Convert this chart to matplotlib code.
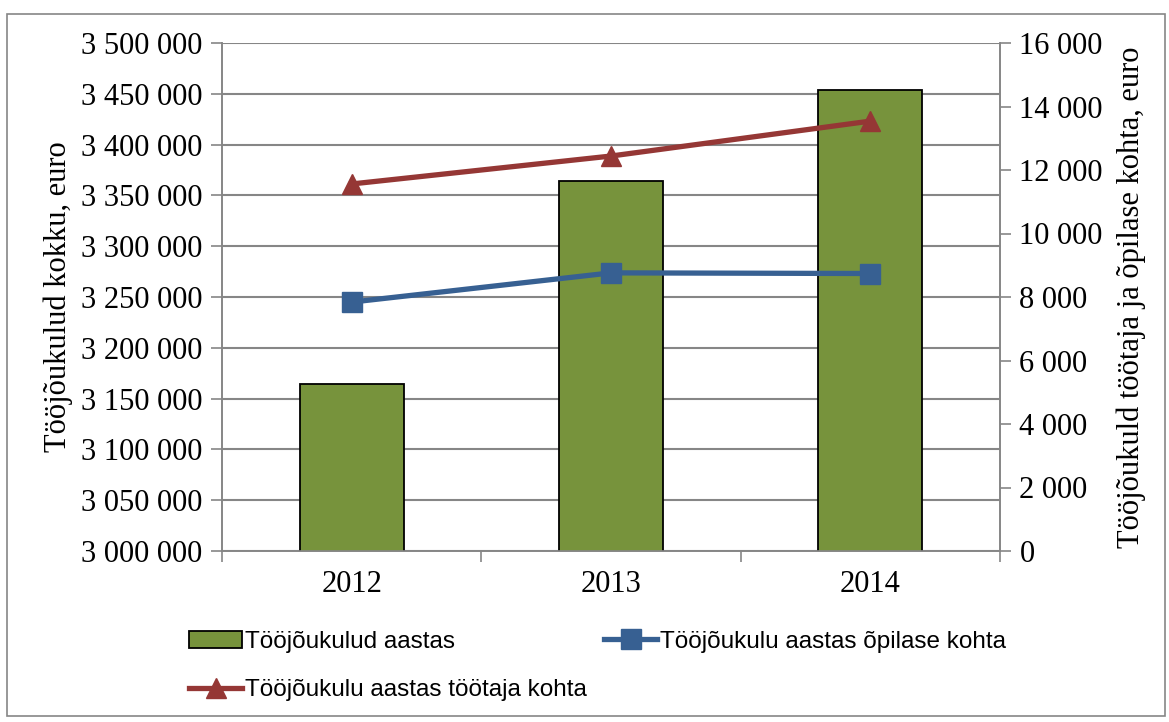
import matplotlib

matplotlib.use("Agg")

import matplotlib.pyplot as plt
from matplotlib.patches import Rectangle
from matplotlib.ticker import FuncFormatter, FixedLocator
import numpy as np

years = ["2012", "2013", "2014"]
total_cost = [3164000, 3364000, 3454000]
per_student = [7840, 8760, 8740]
per_worker = [11560, 12440, 13540]

labels = [
    "Tööjõukulud aastas",
    "Tööjõukulu aastas õpilase kohta",
    "Tööjõukulu aastas töötaja kohta",
]

GREEN = "#77933C"
BLUE = "#376092"
RED = "#953735"
GRID = "#868686"

SERIF = ["Liberation Serif", "DejaVu Serif"]
SANS = ["Liberation Sans", "DejaVu Sans"]

W, H = 1169, 722


def space_thousands(v, _pos=None):
    return f"{int(round(v)):,}".replace(",", " ")


def style_spines(a):
    for s in a.spines.values():
        s.set_color(GRID)
        s.set_linewidth(1.2)
    a.spines["top"].set_visible(False)


def main() -> None:
    fig = plt.figure(figsize=(W / 100, H / 100), dpi=100)
    ax = fig.add_axes([222 / W, 1 - 551 / H, 778 / W, 508 / H])
    ax2 = ax.twinx()

    x = np.arange(len(years))
    bars = ax.bar(x, total_cost, width=0.4, color=GREEN, edgecolor="black", linewidth=1.3, zorder=3)
    ax.set_ylim(3000000, 3500000)
    ax.set_yticks(np.arange(3000000, 3500001, 50000))
    ax.yaxis.set_major_formatter(FuncFormatter(space_thousands))
    ax.set_xlim(-0.5, 2.5)
    ax.set_xticks(x)
    ax.set_xticklabels(years)
    ax.xaxis.set_minor_locator(FixedLocator([-0.5, 0.5, 1.5, 2.5]))
    ax.tick_params(axis="x", which="major", length=0, pad=14)
    ax.tick_params(axis="x", which="minor", length=8, color=GRID, width=1.2)
    ax.tick_params(axis="y", length=8, color=GRID, width=1.2, pad=6)
    ax.grid(axis="y", color=GRID, linewidth=1.5, zorder=0)
    ax.set_axisbelow(True)
    style_spines(ax)

    (l1,) = ax2.plot(x, per_student, color=BLUE, linewidth=3.8, marker="s", markersize=14, zorder=4)
    (l2,) = ax2.plot(x, per_worker, color=RED, linewidth=3.8, marker="^", markersize=14, zorder=4)
    ax2.set_ylim(0, 16000)
    ax2.set_yticks(np.arange(0, 16001, 2000))
    ax2.yaxis.set_major_formatter(FuncFormatter(space_thousands))
    ax2.tick_params(axis="y", length=8, color=GRID, width=1.2, pad=6)
    style_spines(ax2)

    for a in (ax, ax2):
        for t in a.get_yticklabels() + a.get_xticklabels():
            t.set_fontfamily(SERIF)
            t.set_fontsize(22)

    ax.set_ylabel("Tööjõukulud kokku, euro", fontfamily=SERIF, fontsize=22, labelpad=6)
    ax2.set_ylabel("Tööjõukuld töötaja ja õpilase kohta, euro", fontfamily=SERIF, fontsize=22, labelpad=10)

    leg_kw = dict(
        loc="center left",
        frameon=False,
        prop={"family": SANS, "size": 17.5},
        handlelength=2.2,
        handletextpad=0.1,
        borderpad=0,
        borderaxespad=0,
    )
    fig.legend([bars], [labels[0]], bbox_to_anchor=(189 / W, 1 - 642 / H), **leg_kw)
    fig.legend([l1], [labels[1]], bbox_to_anchor=(604 / W, 1 - 642 / H), **leg_kw)
    fig.legend([l2], [labels[2]], bbox_to_anchor=(189 / W, 1 - 690 / H), **leg_kw)

    fig.patches.append(
        Rectangle((7 / W, 1 - 716 / H), 1158 / W, 702 / H, transform=fig.transFigure,
                  fill=False, edgecolor=GRID, linewidth=1.2)
    )

    fig.savefig("out.png", dpi=100)
    plt.close(fig)


if __name__ == "__main__":
    main()
